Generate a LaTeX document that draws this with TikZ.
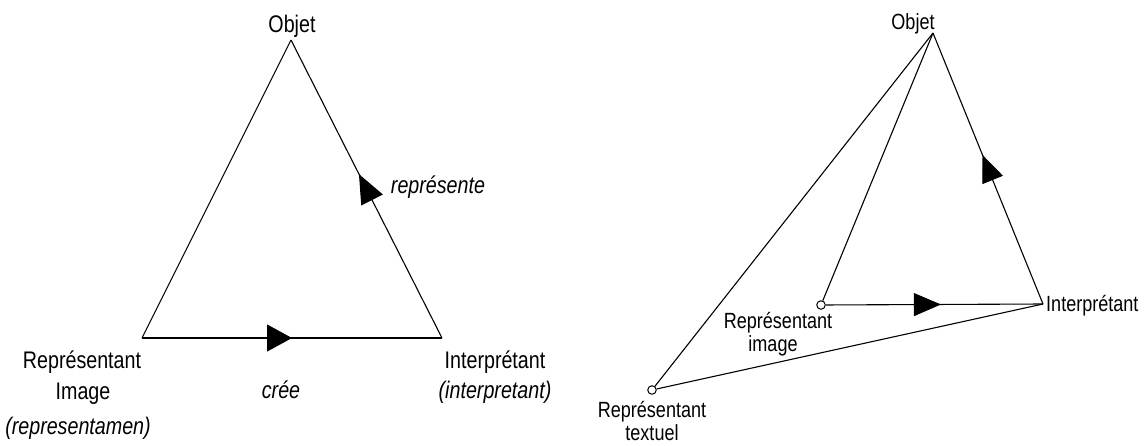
\documentclass[tikz,border=0pt]{standalone}
\usepackage{fontspec}
\setmainfont{Liberation Sans}[FakeStretch=0.82]
\usetikzlibrary{arrows.meta,decorations.markings}
\tikzset{
  edge/.style={line width=1.1pt, line join=miter},
  midarrow/.style n args={3}{postaction={decorate},decoration={markings,
     mark=at position #1 with {\arrow{Triangle[length=#2,width=#3]}}}},
  circ/.style={circle, draw, line width=1pt, fill=white, inner sep=0pt, minimum size=8.5pt},
  bigtxt/.style={font=\fontsize{24}{28}\selectfont, anchor=base, inner sep=0pt},
  bigit/.style={font=\fontsize{24}{28}\selectfont\itshape, anchor=base, inner sep=0pt},
  smalltxt/.style={font=\fontsize{22}{26}\selectfont, anchor=base, inner sep=0pt},
}
\begin{document}
\begin{tikzpicture}[x=1pt,y=-1pt]
\useasboundingbox (0,0) rectangle (1144,445);
% ---------- left triangle ----------
\coordinate (O1) at (291,40);
\coordinate (R1) at (142,338);
\coordinate (I1) at (442,338);
\draw[edge] (R1) -- (O1);
\draw[edge, midarrow={0.50}{25pt}{27pt}] (R1) -- (I1);
\draw[edge, midarrow={0.55}{29pt}{24pt}] (I1) -- (O1);
\node[bigtxt] (tO1) at (292,32) {Objet};
\node[bigit] (trep) at (438,193) {représente};
\node[bigtxt] (tR1a) at (82,368) {Représentant};
\node[bigtxt] (tR1b) at (83,399) {Image};
\node[bigit] (tR1c) at (78,434) {(representamen)};
\node[bigit] (tcree) at (281,398) {crée};
\node[bigtxt] (tI1a) at (495,368) {Interprétant};
\node[bigit] (tI1b) at (495,398) {(interpretant)};
% ---------- right figure ----------
\coordinate (O2) at (933,33);
\coordinate (I2) at (1043,304);
\node[circ] (RI) at (821,305) {};
\node[circ] (RT) at (652,390) {};
\draw[edge] (RT) -- (O2);
\draw[edge] (RI) -- (O2);
\draw[edge] (RT) -- (I2);
\draw[edge, midarrow={0.53}{27pt}{23pt}] (RI) -- (I2);
\draw[edge, midarrow={0.55}{27pt}{22pt}] (I2) -- (O2);
\node[smalltxt] (tO2) at (913,29) {Objet};
\node[smalltxt, anchor=base west] (tI2) at (1046,311) {Interprétant};
\node[smalltxt] (tRIa) at (778,328) {Représentant};
\node[smalltxt] (tRIb) at (773,351) {image};
\node[smalltxt] (tRTa) at (652,417) {Représentant};
\node[smalltxt] (tRTb) at (652,440) {textuel};
\end{tikzpicture}
\end{document}
